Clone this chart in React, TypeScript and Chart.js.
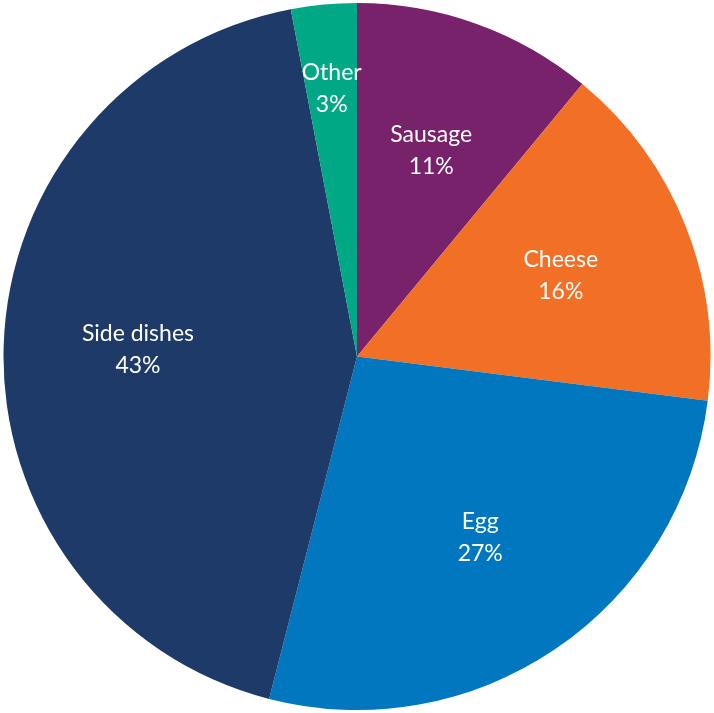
import React, { useEffect, useRef } from "react";
import { Chart, registerables } from "chart.js";

Chart.register(...registerables);

const categories = ["Sausage", "Cheese", "Egg", "Side dishes", "Other"];
const values = [11, 16, 27, 43, 3];
const colors = ["#78226B", "#F26F26", "#0077BE", "#1D3A68", "#00A886"];

const labelPlugin = {
  id: "sliceLabels",
  afterDatasetsDraw(chart: any) {
    const ctx = chart.ctx;
    const meta = chart.getDatasetMeta(0);
    const total = values.reduce((a, b) => a + b, 0);
    ctx.save();
    ctx.fillStyle = "#FFFFFF";
    ctx.font = "23px Lato, 'Open Sans', sans-serif";
    ctx.textAlign = "center";
    ctx.textBaseline = "middle";
    meta.data.forEach((arc: any, i: number) => {
      const p = arc.getProps(["x", "y", "startAngle", "endAngle", "outerRadius"], true);
      const mid = (p.startAngle + p.endAngle) / 2;
      const share = values[i] / total;
      const frac = share < 0.05 ? 0.76 : 0.62;
      const r = p.outerRadius * frac;
      const cx = p.x + Math.cos(mid) * r;
      const cy = p.y + Math.sin(mid) * r;
      ctx.fillText(categories[i], cx, cy - 16);
      ctx.fillText(Math.round(share * 100) + "%", cx, cy + 16);
    });
    ctx.restore();
  },
};

export default function App() {
  const ref = useRef<HTMLCanvasElement | null>(null);
  useEffect(() => {
    document.body.style.margin = "0";
    const chart = new Chart(ref.current as HTMLCanvasElement, {
      type: "pie",
      data: {
        labels: categories,
        datasets: [
          {
            data: values,
            backgroundColor: colors,
            borderWidth: 0,
          },
        ],
      },
      options: {
        animation: false,
        responsive: false,
        maintainAspectRatio: false,
        layout: { padding: 3 },
        plugins: {
          legend: { display: false },
          tooltip: { enabled: false },
        },
      },
      plugins: [labelPlugin],
    });
    return () => chart.destroy();
  }, []);
  return (
    <div style={{ width: 714, height: 713 }}>
      <canvas ref={ref} width={714} height={713} style={{ display: "block" }} />
    </div>
  );
}
